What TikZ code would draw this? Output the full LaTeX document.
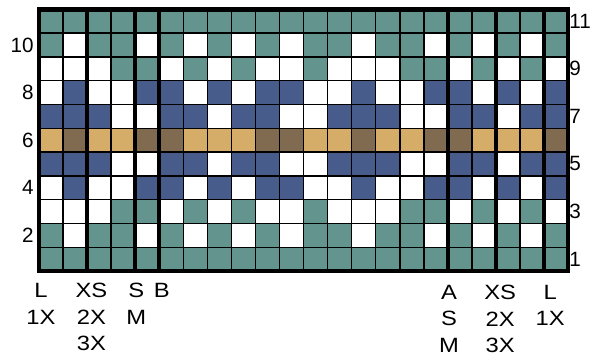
\documentclass[tikz,border=0pt]{standalone}
\usepackage{fontspec}
\setmainfont[FakeStretch=1.15]{Liberation Sans}
\newfontfamily\numfont{Liberation Sans}
\usepackage{xcolor}
\usetikzlibrary{positioning}
\definecolor{cT}{RGB}{100,148,142}
\definecolor{cW}{RGB}{255,255,255}
\definecolor{cB}{RGB}{72,92,140}
\definecolor{cG}{RGB}{213,172,104}
\definecolor{cD}{RGB}{128,106,80}
\tikzstyle{gridline} = [line width=1.1pt, draw=black]
\tikzstyle{divider} = [line width=3pt, draw=black]
\tikzstyle{border} = [line width=3.4pt, draw=black]
\tikzstyle{rownum} = [inner sep=0pt, font=\numfont\fontsize{15.5}{18}\selectfont]
\tikzstyle{sizelbl} = [inner sep=0pt, anchor=north, align=center,
font=\fontsize{15.5}{19.9}\selectfont]

\begin{document}
\begin{tikzpicture}[x=18.04pt, y=17.85pt]

        \useasboundingbox (-1.62,-3.82) rectangle (22.99,11.39);

        % Celdas (filas 1-5 repiten 11-7)
        \foreach \r/\cells in {
            11/{T,T,T,T,T,T,T,T,T,T,T,T,T,T,T,T,T,T,T,T,T,T},
            10/{T,W,T,T,W,T,W,T,W,T,W,T,T,W,T,T,W,T,W,T,W,T},
            9/{W,W,W,T,T,W,T,W,T,W,W,T,W,W,W,T,T,W,T,W,T,W},
            8/{W,B,W,W,B,B,W,B,W,B,B,W,W,B,W,W,B,B,W,B,W,B},
            7/{B,B,B,W,W,B,B,W,B,B,W,W,B,B,B,W,W,B,B,W,B,B},
            6/{G,D,G,G,D,D,G,G,G,D,D,G,G,D,G,G,D,D,G,G,G,D}}{
            \foreach \c [count=\i from 0] in \cells {
                \fill[c\c] (\i,\r-1) rectangle ++(1,1);
                \fill[c\c] (\i,11-\r) rectangle ++(1,1);
            }
        }

        % Lineas
        \foreach \x in {1,...,21} \draw[gridline] (\x,0) -- (\x,11);
        \foreach \y in {1,...,10} \draw[gridline] (0,\y) -- (22,\y);
        \foreach \x in {2,4,5,17,19,21} \draw[divider] (\x,0) -- (\x,11);
        \draw[border] (0,0) rectangle (22,11);

        % Numeros de fila
        \foreach \n in {1,3,...,11} \node[rownum, anchor=west] (num\n) at (22.04,\n-0.5) {\n};
        \foreach \n in {2,4,...,10} \node[rownum, anchor=east] (num\n) at (-0.21,\n-0.5) {\n};

        % Tallas
        \node[sizelbl] (tallaL) at (0.08,-0.5) {L\\1X};
        \node[sizelbl] (tallaXS) at (2.18,-0.5) {XS\\2X\\3X};
        \node[sizelbl] (tallaSM) at (4.05,-0.5) {S\\M};
        \node[sizelbl] (tallaB) at (5.11,-0.5) {B};
        \node[sizelbl] (tallaASM) at (17.05,-0.58) {A\\S\\M};
        \node[sizelbl] (tallaXSd) at (19.17,-0.58) {XS\\2X\\3X};
        \node[sizelbl] (tallaLd) at (21.25,-0.58) {L\\1X};

    \end{tikzpicture}
\end{document}
